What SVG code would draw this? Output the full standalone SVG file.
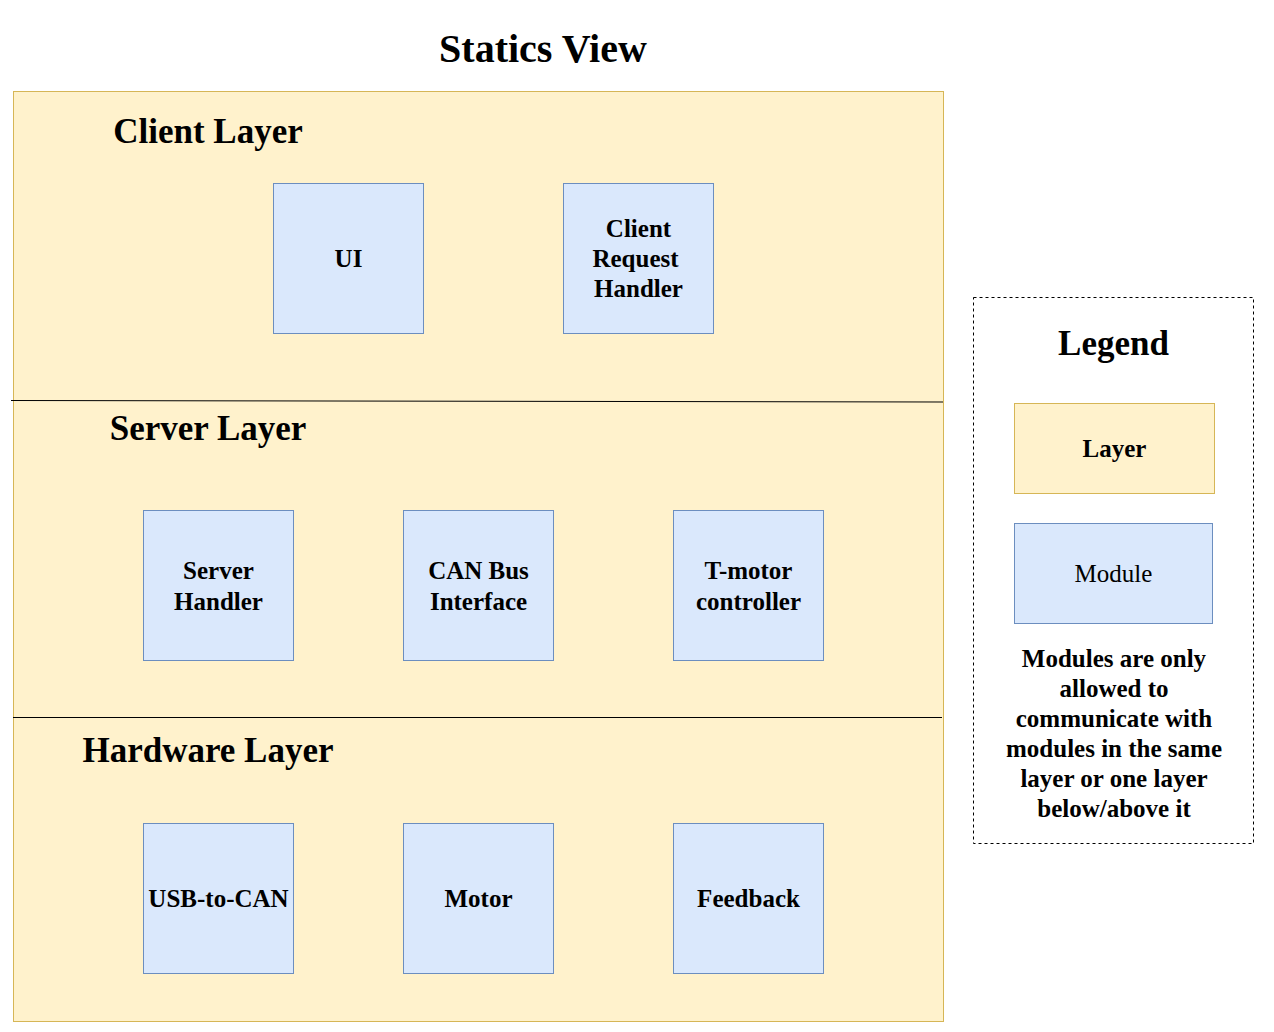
<svg xmlns="http://www.w3.org/2000/svg" width="1274" height="1032" viewBox="0 0 1274 1032">
<style>
text{font-family:"Liberation Serif","Times New Roman",serif;fill:#000;text-anchor:middle}
.b{font-weight:bold}
.t{font-size:40px;font-weight:bold}
.h{font-size:35px;font-weight:bold}
.m{font-size:25px}
.layer{fill:#fff2cc;stroke:#d6b656;stroke-width:1}
.mod{fill:#dae8fc;stroke:#6c8ebf;stroke-width:1}
.sep{stroke:#000;stroke-width:1;fill:none}
</style>
<rect width="1274" height="1032" fill="#fff"/>
<text class="t" x="543" y="62">Statics View</text>
<g id="layers">
<rect class="layer" x="13.5" y="91.5" width="930" height="930"/>
</g>
<g id="connectors">
<path class="sep" d="M11 400.5 L943 402"/>
<path class="sep" d="M13 717.5 L942 717.5"/>
</g>
<text class="h" x="208" y="143">Client Layer</text>
<text class="h" x="208" y="440">Server Layer</text>
<text class="h" x="208" y="762">Hardware Layer</text>
<g id="ui"><rect class="mod" x="273.5" y="183.5" width="150" height="150"/><text class="m b" x="348.5" y="267">UI</text></g>
<g id="client-request-handler"><rect class="mod" x="563.5" y="183.5" width="150" height="150"/><text class="m b" x="638.5" y="237">Client</text><text class="m b" x="635.5" y="267">Request</text><text class="m b" x="638.5" y="297">Handler</text></g>
<g id="server-handler"><rect class="mod" x="143.5" y="510.5" width="150" height="150"/><text class="m b" x="218.5" y="579">Server</text><text class="m b" x="218.5" y="610">Handler</text></g>
<g id="can-bus-interface"><rect class="mod" x="403.5" y="510.5" width="150" height="150"/><text class="m b" x="478.5" y="579">CAN Bus</text><text class="m b" x="478.5" y="610">Interface</text></g>
<g id="t-motor-controller"><rect class="mod" x="673.5" y="510.5" width="150" height="150"/><text class="m b" x="748.5" y="579">T-motor</text><text class="m b" x="748.5" y="610">controller</text></g>
<g id="usb-to-can"><rect class="mod" x="143.5" y="823.5" width="150" height="150"/><text class="m b" x="218.5" y="907">USB-to-CAN</text></g>
<g id="motor"><rect class="mod" x="403.5" y="823.5" width="150" height="150"/><text class="m b" x="478.5" y="907">Motor</text></g>
<g id="feedback"><rect class="mod" x="673.5" y="823.5" width="150" height="150"/><text class="m b" x="748.5" y="907">Feedback</text></g>
<g id="legend">
<rect x="973.5" y="297.5" width="280" height="546" fill="none" stroke="#000" stroke-width="1" stroke-dasharray="3 3"/>
<text class="h" x="1113.5" y="355">Legend</text>
<rect class="layer" x="1014.5" y="403.5" width="200" height="90"/>
<text class="m b" x="1114.5" y="457">Layer</text>
<rect class="mod" x="1014.5" y="523.5" width="198" height="100"/>
<text class="m" x="1113.5" y="582">Module</text>
<text class="m b" x="1114" y="667">Modules are only</text>
<text class="m b" x="1114" y="697">allowed to</text>
<text class="m b" x="1114" y="727">communicate with</text>
<text class="m b" x="1114" y="757">modules in the same</text>
<text class="m b" x="1114" y="787">layer or one layer</text>
<text class="m b" x="1114" y="817">below/above it</text>
</g>
</svg>
